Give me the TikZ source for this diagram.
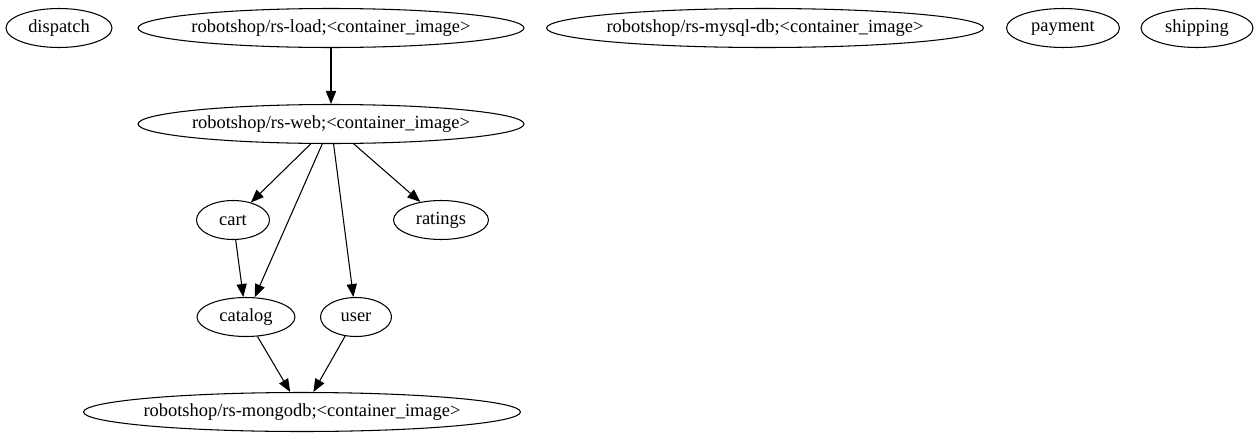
\documentclass[tikz,border=0pt]{standalone}
\usepackage{fontspec}
\setmainfont{Liberation Serif}
\usetikzlibrary{arrows.meta,shapes.geometric}
\tikzset{>={Triangle[length=7.4pt,width=5.8pt]}}
\tikzset{svc/.style={ellipse,draw,inner xsep=-8pt,inner ysep=0pt,minimum height=0.78cm,font=\fontsize{10.5}{12}\selectfont}}

\begin{document}
\begin{tikzpicture}[x=0.02cm,y=-0.02cm,line width=0.6pt]
				\useasboundingbox (0,0) rectangle (1258,443);

				\draw (59,28) node (dispatch) [svc,minimum width=2.12cm] {dispatch};
				\draw (331,28) node (load) [svc,minimum width=7.72cm] {robotshop/rs-load;<container\_image>};
				\draw (765,28) node (mysql) [svc,minimum width=8.74cm] {robotshop/rs-mysql-db;<container\_image>};
				\draw (1063,28) node (payment) [svc,minimum width=2.26cm] {payment};
				\draw (1197,28) node (shipping) [svc,minimum width=2.24cm] {shipping};

				\draw (331,124) node (web) [svc,minimum width=7.72cm] {robotshop/rs-web;<container\_image>};
				\draw (233,220) node (cart) [svc,minimum width=1.46cm] {cart};
				\draw (441,220) node (ratings) [svc,minimum width=1.9cm] {ratings};
				\draw (246,317) node (catalog) [svc,minimum width=1.96cm] {catalog};
				\draw (356,317) node (user) [svc,minimum width=1.42cm] {user};
				\draw (302,412) node (mongodb) [svc,minimum width=8.74cm] {robotshop/rs-mongodb;<container\_image>};

				\draw [->] (load) -- (web);
				\draw [->] (web) -- (cart);
				\draw [->] (web) -- (catalog);
				\draw [->] (web) -- (user);
				\draw [->] (web) -- (ratings);
				\draw [->] (cart) -- (catalog);
				\draw [->] (catalog) -- (mongodb);
				\draw [->] (user) -- (mongodb);
			\end{tikzpicture}
\end{document}
